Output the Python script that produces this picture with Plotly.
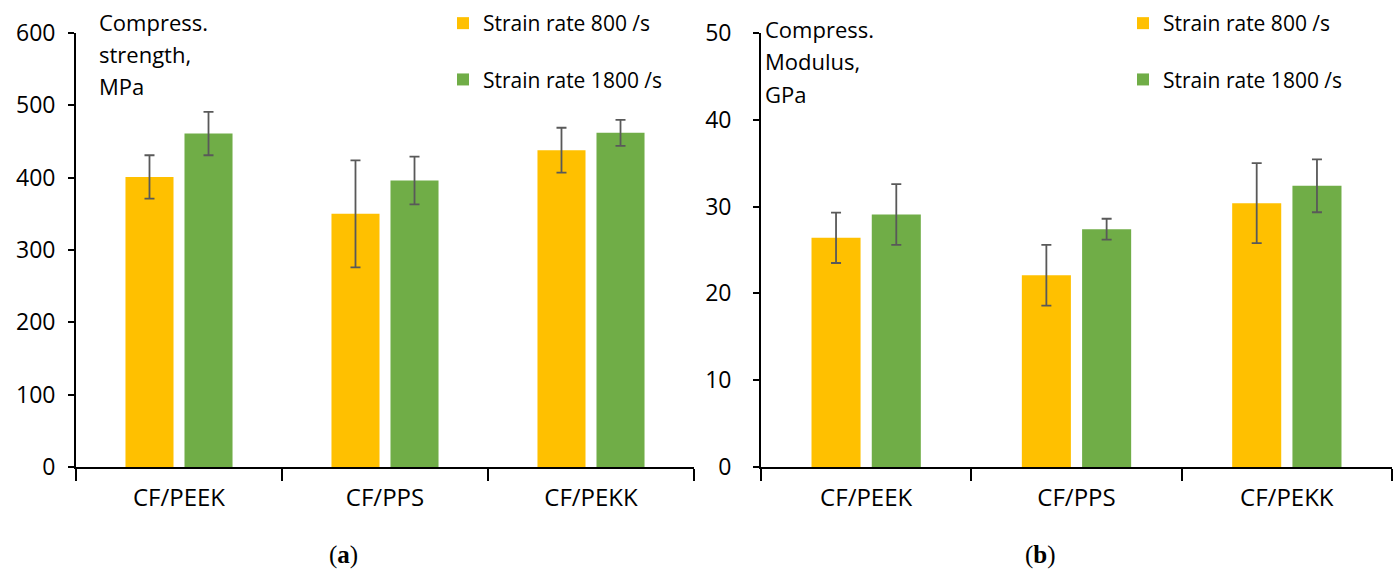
import plotly.graph_objects as go

W, H = 1394, 574

categories = ["CF/PEEK", "CF/PPS", "CF/PEKK"]
series_names = ["Strain rate 800 /s", "Strain rate 1800 /s"]

strength_800 = [401, 350, 438]
strength_800_err = [30, 74, 31]
strength_1800 = [461, 396, 462]
strength_1800_err = [30, 33, 18]

modulus_800 = [26.4, 22.1, 30.4]
modulus_800_err = [2.9, 3.5, 4.6]
modulus_1800 = [29.1, 27.4, 32.4]
modulus_1800_err = [3.5, 1.2, 3.05]

strength_ticks = [0, 100, 200, 300, 400, 500, 600]
modulus_ticks = [0, 10, 20, 30, 40, 50]

colors = ["#FFC000", "#70AD47"]
err_color = "#595959"
FONT = "Open Sans"

def px_x(p):
    return p / W

def px_y(p):
    return 1 - p / H

fig = go.Figure()

panels = [
    ("x", "y", "legend", [strength_800, strength_1800], [strength_800_err, strength_1800_err]),
    ("x2", "y2", "legend2", [modulus_800, modulus_1800], [modulus_800_err, modulus_1800_err]),
]
for xa, ya, lg, vals, errs in panels:
    for i in range(2):
        fig.add_trace(go.Bar(
            x=categories, y=vals[i], name=series_names[i],
            marker=dict(color=colors[i], line=dict(width=0)),
            error_y=dict(type="data", array=errs[i], visible=True,
                         color=err_color, thickness=1.8, width=5),
            xaxis=xa, yaxis=ya, legend=lg, legendgroup=lg + str(i),
        ))

axis_common = dict(showline=True, linecolor="black", linewidth=1.8,
                   showgrid=False, zeroline=False, automargin=False,
                   tickcolor="black", tickwidth=1.8)
xfont = dict(family=FONT, size=24, color="black")
yfont = dict(family=FONT, size=23, color="black")

fig.update_layout(
    width=W, height=H, margin=dict(l=0, r=0, t=0, b=0, autoexpand=False),
    paper_bgcolor="white", plot_bgcolor="white",
    barmode="group", bargap=0.427, bargroupgap=0.186,
    font=dict(family=FONT, size=21, color="black"),
    xaxis=dict(domain=[px_x(76), px_x(694)], anchor="y", type="category",
               ticks="outside", tickson="boundaries", ticklen=12,
               ticklabelstandoff=8, tickfont=xfont, **axis_common),
    yaxis=dict(domain=[px_y(467), px_y(33)], anchor="x", range=[0, 600],
               tickvals=strength_ticks, ticks="outside", ticklen=6,
               ticklabelstandoff=8, tickfont=yfont, **axis_common),
    xaxis2=dict(domain=[px_x(761), px_x(1392)], anchor="y2", type="category",
                ticks="outside", tickson="boundaries", ticklen=12,
                ticklabelstandoff=8, tickfont=xfont, **axis_common),
    yaxis2=dict(domain=[px_y(467), px_y(33)], anchor="x2", range=[0, 50],
                tickvals=modulus_ticks, ticks="outside", ticklen=6,
                ticklabelstandoff=17, tickfont=yfont, **axis_common),
    legend=dict(x=px_x(443), y=px_y(3), xanchor="left", yanchor="top",
                bgcolor="rgba(0,0,0,0)", tracegroupgap=26,
                font=dict(family=FONT, size=21, color="black")),
    legend2=dict(x=px_x(1123), y=px_y(3), xanchor="left", yanchor="top",
                 bgcolor="rgba(0,0,0,0)", tracegroupgap=26,
                 font=dict(family=FONT, size=21, color="black")),
)

left_label = ["Compress.", "strength,", "MPa"]
right_label = ["Compress.", "Modulus,", "GPa"]
for i, t in enumerate(left_label):
    fig.add_annotation(text=t, xref="paper", yref="paper", x=px_x(97), y=px_y(22 + 32 * i),
                       xanchor="left", yanchor="middle", showarrow=False,
                       font=dict(family=FONT, size=22, color="black"))
for i, t in enumerate(right_label):
    fig.add_annotation(text=t, xref="paper", yref="paper", x=px_x(763), y=px_y(29 + 32.5 * i),
                       xanchor="left", yanchor="middle", showarrow=False,
                       font=dict(family=FONT, size=22, color="black"))

fig.add_annotation(text="(<b>a</b>)", xref="paper", yref="paper", x=px_x(343), y=px_y(555),
                   xanchor="center", yanchor="middle", showarrow=False,
                   font=dict(family="Liberation Serif", size=25, color="black"))
fig.add_annotation(text="(<b>b</b>)", xref="paper", yref="paper", x=px_x(1040), y=px_y(555),
                   xanchor="center", yanchor="middle", showarrow=False,
                   font=dict(family="Liberation Serif", size=25, color="black"))

fig.write_html("out.html")
